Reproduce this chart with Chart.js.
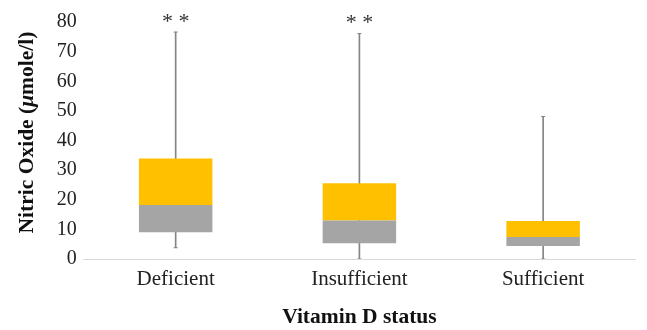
<!DOCTYPE html>
<html>
<head>
<meta charset="utf-8">
<script src="https://cdn.jsdelivr.net/npm/chart.js@4/dist/chart.umd.min.js"></script>
<style>
  html, body { margin: 0; padding: 0; background: #fff; }
  #wrap { width: 647px; height: 330px; position: relative; }
</style>
</head>
<body>
<div id="wrap"><canvas id="noChart"></canvas></div>
<script>
// Nitric oxide by vitamin D status (box plot values)
const categories = ['Deficient', 'Insufficient', 'Sufficient'];
const minVals    = [3.8, 0, 0];
const q1Vals     = [9.0, 5.3, 4.4];
const medianVals = [18.2, 13.0, 7.4];
const q3Vals     = [33.9, 25.6, 12.8];
const maxVals    = [76.6, 76.1, 48.1];
const sigMarks   = ['**', '**', ''];
const yTicks     = [0, 10, 20, 30, 40, 50, 60, 70, 80];

const serif = "'Liberation Serif', 'DejaVu Serif', serif";
const titleSize = 21.5;

// asterisks above the whiskers + y title with italic mu
const extrasPlugin = {
  id: 'extras',
  afterDatasetsDraw(chart) {
    const { ctx, scales: { x, y } } = chart;
    ctx.save();
    ctx.fillStyle = '#333';
    ctx.font = `22px ${serif}`;
    ctx.textAlign = 'center';
    ctx.textBaseline = 'bottom';
    sigMarks.forEach((m, i) => {
      if (!m) return;
      ctx.fillText(m.split('').join(' '), x.getPixelForValue(i), y.getPixelForValue(maxVals[i]) + 1);
    });
    ctx.restore();
  },
  afterDraw(chart) {
    const { ctx, scales: { y } } = chart;
    const parts = [
      ['Nitric Oxide (', `bold ${titleSize}px ${serif}`],
      ['μ', `italic bold ${titleSize}px ${serif}`],
      ['mole/l)', `bold ${titleSize}px ${serif}`]
    ];
    let total = 0;
    parts.forEach(p => { ctx.font = p[1]; total += ctx.measureText(p[0]).width; });
    ctx.save();
    ctx.translate(y.left + 14, (chart.chartArea.top + chart.chartArea.bottom) / 2 - 8);
    ctx.rotate(-Math.PI / 2);
    ctx.fillStyle = '#111';
    ctx.textBaseline = 'middle';
    ctx.textAlign = 'left';
    let cx = -total / 2;
    parts.forEach(p => { ctx.font = p[1]; ctx.fillText(p[0], cx, 0); cx += ctx.measureText(p[0]).width; });
    ctx.restore();
  }
};

new Chart(document.getElementById('noChart'), {
  data: {
    labels: categories,
    datasets: [
      { type: 'bar', label: 'whisker', data: categories.map((c, i) => [minVals[i], maxVals[i]]),
        backgroundColor: '#858585', barThickness: 1, grouped: false, order: 3 },
      { type: 'bar', label: 'Q1-median', data: categories.map((c, i) => [q1Vals[i], medianVals[i]]),
        backgroundColor: '#a5a5a5', barPercentage: 0.4, categoryPercentage: 1, grouped: false, order: 1 },
      { type: 'bar', label: 'median-Q3', data: categories.map((c, i) => [medianVals[i], q3Vals[i]]),
        backgroundColor: '#ffc000', barPercentage: 0.4, categoryPercentage: 1, grouped: false, order: 2 },
      { type: 'scatter', label: 'caps', data: categories.flatMap((c, i) => [{ x: c, y: minVals[i] }, { x: c, y: maxVals[i] }]),
        pointStyle: 'line', radius: 2, borderColor: '#858585', borderWidth: 1, order: 0 }
    ]
  },
  options: {
    responsive: true, maintainAspectRatio: false, animation: false,
    layout: { padding: { top: 22, right: 12, left: 13, bottom: 0 } },
    plugins: { legend: { display: false }, tooltip: { enabled: false } },
    scales: {
      x: {
        type: 'category', offset: true,
        grid: { display: false },
        border: { display: true, color: '#d9d9d9' },
        ticks: { color: '#222', font: { family: serif, size: 21 }, padding: 0 },
        title: { display: true, text: 'Vitamin D status', color: '#111',
                 font: { family: serif, size: titleSize, weight: 'bold' }, padding: { top: 12, bottom: 0 } }
      },
      y: {
        min: 0, max: 80,
        afterBuildTicks: s => { s.ticks = yTicks.map(v => ({ value: v })); },
        grid: { display: false },
        border: { display: false },
        ticks: { color: '#222', font: { family: serif, size: 20 }, padding: -1 },
        title: { display: true, text: 'Nitric Oxide (μmole/l)', color: 'rgba(0,0,0,0)',
                 font: { family: serif, size: titleSize, weight: 'bold' }, padding: { top: 0, bottom: 19 } }
      }
    }
  },
  plugins: [extrasPlugin]
});
</script>
</body>
</html>
